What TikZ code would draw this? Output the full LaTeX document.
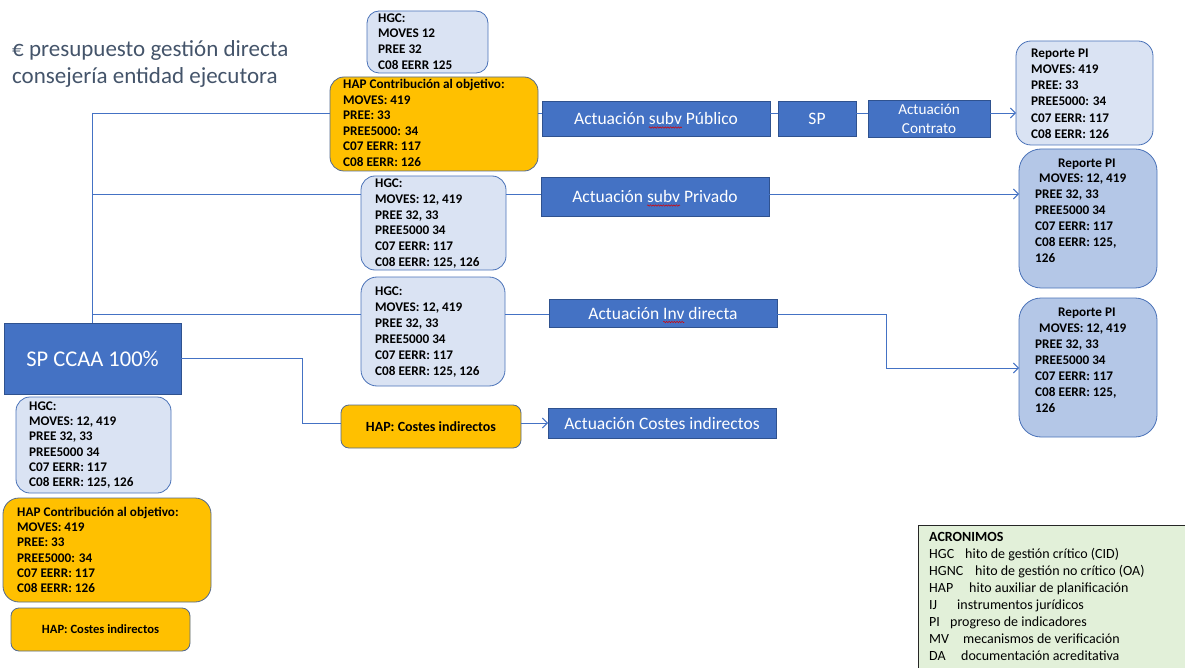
\documentclass[tikz,border=0pt]{standalone}
\usepackage{fontspec}
\setmainfont{Carlito}
\usetikzlibrary{arrows.meta,calc,decorations.pathmorphing}
\definecolor{lb}{HTML}{DAE3F3}
\definecolor{mb}{HTML}{B4C7E7}
\definecolor{acc}{HTML}{4472C4}
\definecolor{accd}{HTML}{2F528F}
\definecolor{bd}{HTML}{4A72B8}
\definecolor{gold}{HTML}{FFC000}
\definecolor{goldbd}{HTML}{52698F}
\definecolor{lg}{HTML}{E2F0D9}
\definecolor{ttl}{HTML}{44546A}
\definecolor{ln}{HTML}{4472C4}
\newsavebox\wavebox
\newcommand\spellwave[1]{\sbox\wavebox{#1}\rlap{\tikz[overlay]\draw[red!85!black, line width=0.5pt, decorate, decoration={snake, amplitude=0.7pt, segment length=2.6pt}] (0pt,-3pt) -- (\wd\wavebox,-3pt);}\usebox\wavebox}
\begin{document}
\begin{tikzpicture}[x=1pt,y=-1pt,
 box/.style={anchor=north west, inner sep=0, outer sep=0},
 hgcbox/.style={box, fill=lb, draw=bd, line width=0.8pt, rounded corners=12pt},
 repbox/.style={box, fill=mb, draw=bd, line width=0.8pt, rounded corners=22pt},
 hapbox/.style={box, fill=gold, draw=goldbd, line width=0.8pt, rounded corners=14pt},
 actbox/.style={box, fill=acc, draw=accd, line width=0.7pt, text=white, font=\fontsize{17.5}{19}\selectfont, align=center},
 tx/.style={anchor=west, inner sep=0, align=left, font=\bfseries\fontsize{13.2}{15.6}\selectfont},
 conn/.style={draw=ln, line width=0.9pt},
 arr/.style={conn, -{Straight Barb[length=5pt,width=10pt,line width=0.9pt]}},
]
\useasboundingbox (0,0) rectangle (1185,668);

% title
\node[anchor=west, inner sep=0, align=left, text=ttl, font=\fontsize{23}{27}\selectfont] (title) at (12,63.5) {€ presupuesto gestión directa\\consejería entidad ejecutora};

% blue action boxes
\node[actbox, minimum width=228, minimum height=35] (pub) at (542,101) {Actuación \spellwave{subv} Público};
\node[actbox, minimum width=78, minimum height=35] (sp) at (778,101) {SP};
\node[actbox, minimum width=122, minimum height=37, font=\fontsize{15.2}{19}\selectfont] (con) at (868,100) {Actuación\\Contrato};
\node[actbox, minimum width=228, minimum height=39] (priv) at (541,177) {Actuación \spellwave{subv} Privado};
\node[actbox, minimum width=228, minimum height=28] (inv) at (549,299) {Actuación \spellwave{Inv} directa};
\node[actbox, minimum width=228, minimum height=30] (actc) at (548,408) {Actuación Costes indirectos};
\node[actbox, minimum width=177, minimum height=71, font=\fontsize{22.5}{26}\selectfont] (spc) at (4,323) {SP CCAA 100\%};

% rounded boxes
\node[hgcbox, minimum width=121, minimum height=62] (hgc1) at (367,11) {};
\node[hapbox, minimum width=208, minimum height=94] (hap1) at (330,77) {};
\node[hgcbox, minimum width=145, minimum height=94, rounded corners=14pt] (hgc2) at (361,176) {};
\node[hgcbox, minimum width=144, minimum height=109, rounded corners=16pt] (hgc3) at (361,277) {};
\node[hgcbox, minimum width=137, minimum height=104, rounded corners=15pt] (rep1) at (1016,41) {};
\node[repbox, minimum width=138, minimum height=139] (rep2) at (1019,149) {};
\node[repbox, minimum width=138, minimum height=139] (rep3) at (1019,298) {};
\node[hgcbox, minimum width=155, minimum height=96, rounded corners=14pt] (hgcL) at (16,397) {};
\node[hapbox, minimum width=208, minimum height=104, rounded corners=16pt] (hapL) at (3,498) {};
\node[hapbox, minimum width=179, minimum height=43, rounded corners=8pt, font=\bfseries\fontsize{12.6}{15}\selectfont] (hapcL) at (11,608) {HAP: Costes indirectos};
\node[hapbox, minimum width=180, minimum height=43, rounded corners=8pt, font=\bfseries\fontsize{14}{15}\selectfont] (hapc) at (341,405) {HAP: Costes indirectos};

% texts in rounded boxes
\node[tx] (hgc1t) at (378,41.5) {HGC:\\MOVES 12\\PREE 32\\C08 EERR 125};
\node[tx] (hap1t) at (343,123) {HAP Contribución al objetivo:\\MOVES: 419\\PREE: 33\\PREE5000: 34\\C07 EERR: 117\\C08 EERR: 126};
\node[tx, font=\bfseries\fontsize{13.2}{15.8}\selectfont] (hgc2t) at (375,223.5) {HGC:\\MOVES: 12, 419\\PREE 32, 33\\PREE5000 34\\C07 EERR: 117\\C08 EERR: 125, 126};
\node[tx, font=\bfseries\fontsize{13.2}{16}\selectfont] (hgc3t) at (375,332) {HGC:\\MOVES: 12, 419\\PREE 32, 33\\PREE5000 34\\C07 EERR: 117\\C08 EERR: 125, 126};
\node[tx, font=\bfseries\fontsize{13.2}{16.2}\selectfont] (rep1t) at (1031,93.5) {Reporte PI\\MOVES: 419\\PREE: 33\\PREE5000: 34\\C07 EERR: 117\\C08 EERR: 126};
\node[tx, font=\bfseries\fontsize{13.2}{15.9}\selectfont] (rep2t) at (1035,210.5) {\hspace*{23pt}Reporte PI\\\hspace*{4pt}MOVES: 12, 419\\PREE 32, 33\\PREE5000 34\\C07 EERR: 117\\C08 EERR: 125,\\126};
\node[tx, font=\bfseries\fontsize{13.2}{16}\selectfont] (rep3t) at (1035,360) {\hspace*{23pt}Reporte PI\\\hspace*{4pt}MOVES: 12, 419\\PREE 32, 33\\PREE5000 34\\C07 EERR: 117\\C08 EERR: 125,\\126};
\node[tx, font=\bfseries\fontsize{13.2}{15.2}\selectfont] (hgcLt) at (29,445) {HGC:\\MOVES: 12, 419\\PREE 32, 33\\PREE5000 34\\C07 EERR: 117\\C08 EERR: 125, 126};
\node[tx, font=\bfseries\fontsize{13.2}{15.2}\selectfont] (hapLt) at (17,550) {HAP Contribución al objetivo:\\MOVES: 419\\PREE: 33\\PREE5000: 34\\C07 EERR: 117\\C08 EERR: 126};

% acronyms
\node[box, fill=lg, draw=black!85, line width=0.8pt, minimum width=280, minimum height=150] (acr) at (918,525) {};
\node[tx, font=\fontsize{14}{17}\selectfont] (acrt) at (929,596.5) {\textbf{ACRONIMOS}\\
\makebox[36pt][l]{HGC}hito de gestión crítico (CID)\\
\makebox[46pt][l]{HGNC}hito de gestión no crítico (OA)\\
\makebox[40pt][l]{HAP}hito auxiliar de planificación\\
\makebox[28pt][l]{IJ}instrumentos jurídicos\\
\makebox[21pt][l]{PI}progreso de indicadores\\
\makebox[34pt][l]{MV}mecanismos de verificación\\
\makebox[32pt][l]{DA}documentación acreditativa};

% connectors
\coordinate (r1) at (92,113);
\coordinate (r2) at (92,194);
\coordinate (r3) at (92,314);
\coordinate (bend) at (886,368);
\coordinate (cv) at (302,423);
\draw[conn] (r1) -- (r1 |- spc.north);
\draw[conn] (r1) -- (r1 -| hap1.west);
\draw[conn] (r1 -| hap1.east) -- (r1 -| pub.west);
\draw[conn] (r1 -| pub.east) -- (r1 -| sp.west);
\draw[conn] (r1 -| sp.east) -- (r1 -| con.west);
\draw[arr] (r1 -| con.east) -- (r1 -| rep1.west);
\draw[conn] (r2) -- (r2 -| hgc2.west);
\draw[conn] (r2 -| hgc2.east) -- (r2 -| priv.west);
\draw[arr] (r2 -| priv.east) -- (r2 -| rep2.west);
\draw[conn] (r3) -- (r3 -| hgc3.west);
\draw[conn] (r3 -| hgc3.east) -- (r3 -| inv.west);
\draw[arr] (r3 -| inv.east) -| (bend) -- (bend -| rep3.west);
\draw[conn] (spc.east) -| (cv) -- (cv -| hapc.west);
\draw[arr] (cv -| hapc.east) -- (cv -| actc.west);
\end{tikzpicture}
\end{document}
